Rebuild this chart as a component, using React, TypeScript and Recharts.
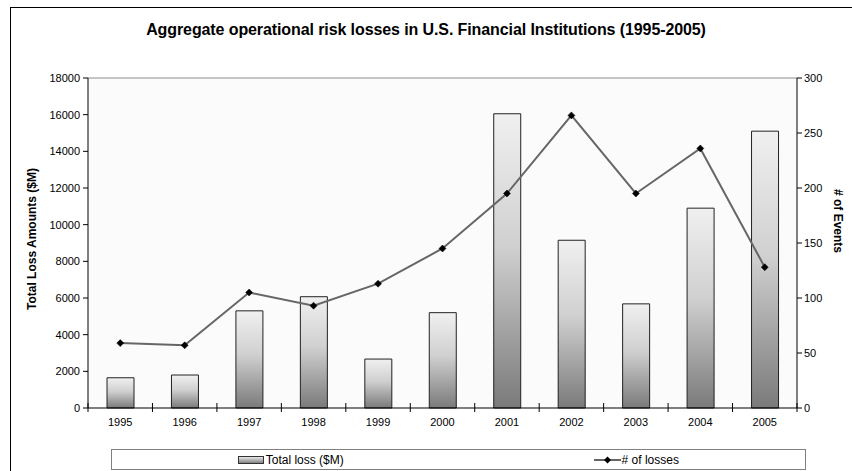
import React from 'react';
import {
    ComposedChart,
    Bar,
    Line,
    XAxis,
    YAxis,
    CartesianGrid,
    Legend,
    ReferenceLine,
} from 'recharts';

const years = ['1995', '1996', '1997', '1998', '1999', '2000', '2001', '2002', '2003', '2004', '2005'];
const totalLoss = [1650, 1800, 5300, 6070, 2670, 5200, 16050, 9150, 5680, 10900, 15100];
const lossCount = [59, 57, 105, 93, 113, 145, 195, 266, 195, 236, 128];
const lossTicks = [0, 2000, 4000, 6000, 8000, 10000, 12000, 14000, 16000, 18000];
const countTicks = [0, 50, 100, 150, 200, 250, 300];

const FONT = '"Liberation Sans", Arial, sans-serif';

const data = years.map((year, i) => ({ year, loss: totalLoss[i], count: lossCount[i] }));

// diamond marker for the event count line
const Diamond = (props: any) => {
    const { cx, cy } = props;
    if (cx == null || cy == null) return null;
    const r = 3.5;
    return (
        <path
            d={`M${cx},${cy - r} L${cx + r},${cy} L${cx},${cy + r} L${cx - r},${cy} Z`}
            fill="#000"
            stroke="#000"
            strokeWidth={0.5}
        />
    );
};

// year label centred, tick marks on the category boundaries
const YearTick = (props: any) => {
    const { x, y, payload, index, visibleTicksCount } = props;
    const half = payload.offset || 0;
    const axisY = y - 10;
    const isLast = index === visibleTicksCount - 1;
    return (
        <g>
            <line x1={x - half} x2={x - half} y1={axisY - 5} y2={axisY + 4} stroke="#000" />
            {isLast && <line x1={x + half} x2={x + half} y1={axisY - 5} y2={axisY + 4} stroke="#000" />}
            <text x={x} y={y + 8} textAnchor="middle" fontSize={11} fontFamily={FONT} fill="#000">
                {payload.value}
            </text>
        </g>
    );
};

const LegendBox = () => (
    <div
        style={{
            boxSizing: 'border-box',
            width: 695,
            height: 21,
            border: '1px solid #808080',
            background: '#fff',
            display: 'flex',
            fontFamily: FONT,
            fontSize: 12,
            color: '#000',
        }}
    >
        <div style={{ flex: 1, display: 'flex', justifyContent: 'center', alignItems: 'center', paddingLeft: 10 }}>
            <svg width={26} height={8} style={{ marginRight: 2 }}>
                <defs>
                    <linearGradient id="legendGrad" x1="0" y1="0" x2="0" y2="1">
                        <stop offset="0%" stopColor="#f0f0f0" />
                        <stop offset="100%" stopColor="#7a7a7a" />
                    </linearGradient>
                </defs>
                <rect x={0.5} y={0.5} width={25} height={7} fill="url(#legendGrad)" stroke="#333" />
            </svg>
            <span>Total loss ($M)</span>
        </div>
        <div style={{ flex: 1, display: 'flex', justifyContent: 'center', alignItems: 'center', paddingLeft: 8 }}>
            <svg width={27} height={8} style={{ marginRight: 1 }}>
                <line x1={0} x2={27} y1={4} y2={4} stroke="#666" strokeWidth={2} />
                <path d="M13.5,0.5 L17,4 L13.5,7.5 L10,4 Z" fill="#000" />
            </svg>
            <span># of losses</span>
        </div>
    </div>
);

export default function App() {
    return (
        <div
            style={{
                position: 'absolute',
                left: 0,
                top: 0,
                width: 852,
                height: 471,
                overflow: 'hidden',
                background: '#fff',
            }}
        >
            <div
                style={{
                    position: 'absolute',
                    left: 10,
                    top: 7,
                    width: 900,
                    height: 500,
                    border: '1.5px solid #000',
                }}
            />
            <div
                style={{
                    position: 'absolute',
                    left: 0,
                    top: 21,
                    width: 852,
                    textAlign: 'center',
                    fontFamily: FONT,
                    fontWeight: 'bold',
                    fontSize: 16,
                    letterSpacing: -0.1,
                }}
            >
                Aggregate operational risk losses in U.S. Financial Institutions (1995-2005)
            </div>
            <div style={{ position: 'absolute', left: 0, top: 0 }}>
                <ComposedChart
                    width={852}
                    height={471}
                    data={data}
                    margin={{ top: 78, right: 0, bottom: 12, left: 0 }}
                    barSize={27}
                >
                    <defs>
                        <linearGradient id="barGrad" x1="0" y1="0" x2="0" y2="1">
                            <stop offset="0%" stopColor="#f0f0f0" />
                            <stop offset="45%" stopColor="#d0d0d0" />
                            <stop offset="100%" stopColor="#7a7a7a" />
                        </linearGradient>
                    </defs>
                    <CartesianGrid vertical={false} horizontal={false} fill="#fbfbfb" />
                    <XAxis
                        dataKey="year"
                        xAxisId="x"
                        height={30}
                        tickLine={false}
                        tickSize={0}
                        tickMargin={10}
                        axisLine={{ stroke: '#000' }}
                        tick={<YearTick />}
                        interval={0}
                    />
                    <YAxis
                        yAxisId="loss"
                        orientation="left"
                        width={88}
                        domain={[0, 18000]}
                        ticks={lossTicks}
                        interval={0}
                        tickSize={5}
                        tickMargin={3}
                        axisLine={{ stroke: '#000' }}
                        tickLine={{ stroke: '#000' }}
                        tick={{ fontSize: 11, fontFamily: FONT, fill: '#000' }}
                        label={{
                            value: 'Total Loss Amounts ($M)',
                            angle: -90,
                            position: 'insideLeft',
                            dx: 27,
                            dy: -4,
                            style: { fontSize: 12, fontFamily: FONT, fontWeight: 'bold', fill: '#000', textAnchor: 'middle' },
                        }}
                    />
                    <YAxis
                        yAxisId="count"
                        orientation="right"
                        width={55}
                        domain={[0, 300]}
                        ticks={countTicks}
                        interval={0}
                        tickSize={5}
                        tickMargin={2}
                        axisLine={{ stroke: '#000' }}
                        tickLine={{ stroke: '#000' }}
                        tick={{ fontSize: 11, fontFamily: FONT, fill: '#000' }}
                        label={{
                            value: '# of Events',
                            angle: 90,
                            position: 'insideRight',
                            dx: -9,
                            dy: -22,
                            style: { fontSize: 12, fontFamily: FONT, fontWeight: 'bold', fill: '#000', textAnchor: 'middle' },
                        }}
                    />
                    <ReferenceLine yAxisId="loss" xAxisId="x" y={18000} stroke="#8c8c8c" />
                    <Bar
                        xAxisId="x"
                        yAxisId="loss"
                        dataKey="loss"
                        name="Total loss ($M)"
                        fill="url(#barGrad)"
                        stroke="#222"
                        strokeWidth={1}
                        isAnimationActive={false}
                    />
                    <Line
                        xAxisId="x"
                        yAxisId="count"
                        dataKey="count"
                        name="# of losses"
                        type="linear"
                        stroke="#666"
                        strokeWidth={2}
                        dot={<Diamond />}
                        activeDot={false}
                        isAnimationActive={false}
                    />
                    <Legend
                        content={<LegendBox />}
                        wrapperStyle={{ left: 111, top: 449, width: 695, height: 21 }}
                    />
                </ComposedChart>
            </div>
        </div>
    );
}
